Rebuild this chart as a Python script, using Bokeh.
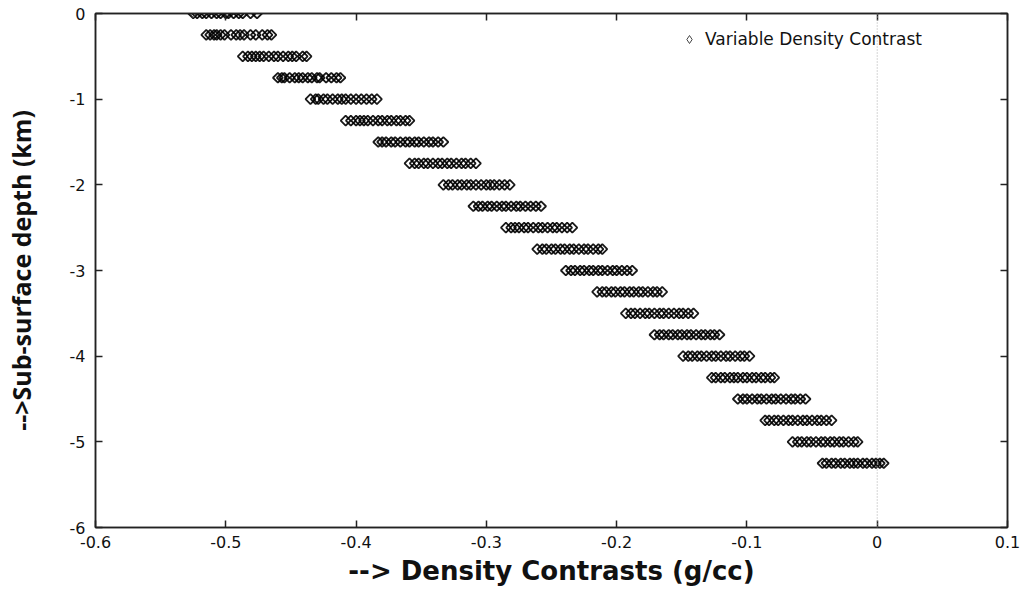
import numpy as np
from bokeh.plotting import figure
from bokeh.models import FixedTicker, Span, Legend, LegendItem, LinearAxis
from bokeh.embed import file_html
from bokeh.resources import INLINE

# Depth levels (km) of each row of samples
depth_levels = [0.0, -0.25, -0.5, -0.75, -1.0, -1.25, -1.5, -1.75, -2.0, -2.25, -2.5,
                -2.75, -3.0, -3.25, -3.5, -3.75, -4.0, -4.25, -4.5, -4.75, -5.0, -5.25]

# Density contrast samples (g/cc)
row_0 = [-0.525, -0.522, -0.518, -0.515, -0.511, -0.507, -0.504, -0.500, -0.498, -0.494, -0.490, -0.487, -0.481, -0.476]
row_1 = [-0.515, -0.512, -0.509, -0.507, -0.504, -0.501, -0.496, -0.492, -0.489, -0.486, -0.481, -0.477, -0.472, -0.468, -0.465]
row_2 = [-0.487, -0.483, -0.480, -0.477, -0.474, -0.471, -0.467, -0.463, -0.460, -0.456, -0.452, -0.449, -0.446, -0.441, -0.438]
row_3 = [-0.460, -0.457, -0.455, -0.451, -0.447, -0.444, -0.441, -0.437, -0.434, -0.430, -0.428, -0.423, -0.419, -0.415, -0.412]
row_4 = [-0.435, -0.431, -0.429, -0.425, -0.422, -0.418, -0.414, -0.411, -0.408, -0.404, -0.400, -0.396, -0.392, -0.388, -0.384]
row_5 = [-0.408, -0.404, -0.400, -0.397, -0.394, -0.391, -0.387, -0.383, -0.380, -0.376, -0.373, -0.369, -0.366, -0.362, -0.359]
row_6 = [-0.383, -0.380, -0.377, -0.373, -0.370, -0.366, -0.362, -0.359, -0.355, -0.352, -0.348, -0.344, -0.341, -0.337, -0.333]
row_7 = [-0.359, -0.355, -0.352, -0.348, -0.345, -0.341, -0.337, -0.334, -0.330, -0.327, -0.323, -0.319, -0.316, -0.312, -0.308]
row_8 = [-0.333, -0.329, -0.326, -0.322, -0.319, -0.315, -0.312, -0.308, -0.304, -0.300, -0.297, -0.294, -0.290, -0.286, -0.282]
row_9 = [-0.310, -0.306, -0.303, -0.299, -0.296, -0.292, -0.288, -0.285, -0.281, -0.277, -0.274, -0.270, -0.266, -0.262, -0.258]
row_10 = [-0.285, -0.281, -0.278, -0.275, -0.271, -0.268, -0.264, -0.260, -0.257, -0.253, -0.249, -0.246, -0.242, -0.238, -0.234]
row_11 = [-0.261, -0.257, -0.254, -0.250, -0.247, -0.243, -0.240, -0.236, -0.233, -0.229, -0.225, -0.222, -0.218, -0.214, -0.211]
row_12 = [-0.239, -0.235, -0.232, -0.228, -0.225, -0.221, -0.218, -0.214, -0.211, -0.207, -0.203, -0.200, -0.196, -0.192, -0.188]
row_13 = [-0.215, -0.211, -0.208, -0.204, -0.201, -0.197, -0.194, -0.190, -0.187, -0.183, -0.180, -0.176, -0.172, -0.169, -0.165]
row_14 = [-0.193, -0.189, -0.186, -0.182, -0.178, -0.175, -0.171, -0.167, -0.164, -0.160, -0.156, -0.152, -0.149, -0.145, -0.141]
row_15 = [-0.171, -0.167, -0.164, -0.160, -0.157, -0.153, -0.150, -0.146, -0.143, -0.139, -0.135, -0.132, -0.128, -0.125, -0.121]
row_16 = [-0.149, -0.145, -0.142, -0.138, -0.135, -0.131, -0.127, -0.124, -0.120, -0.116, -0.113, -0.109, -0.105, -0.102, -0.098]
row_17 = [-0.127, -0.124, -0.120, -0.117, -0.113, -0.110, -0.107, -0.103, -0.100, -0.096, -0.093, -0.089, -0.086, -0.082, -0.079]
row_18 = [-0.107, -0.103, -0.100, -0.096, -0.092, -0.089, -0.085, -0.081, -0.078, -0.074, -0.070, -0.066, -0.063, -0.059, -0.055]
row_19 = [-0.086, -0.083, -0.079, -0.076, -0.072, -0.068, -0.065, -0.061, -0.057, -0.054, -0.050, -0.046, -0.043, -0.039, -0.035]
row_20 = [-0.065, -0.061, -0.058, -0.054, -0.051, -0.047, -0.043, -0.040, -0.036, -0.033, -0.029, -0.026, -0.022, -0.018, -0.015]
row_21 = [-0.042, -0.039, -0.035, -0.032, -0.028, -0.025, -0.021, -0.018, -0.015, -0.011, -0.008, -0.004, -0.001, 0.002, 0.005]

rows = [row_0, row_1, row_2, row_3, row_4, row_5, row_6, row_7, row_8, row_9, row_10,
        row_11, row_12, row_13, row_14, row_15, row_16, row_17, row_18, row_19, row_20, row_21]

x_ticks = [-0.6, -0.5, -0.4, -0.3, -0.2, -0.1, 0.0, 0.1]
x_tick_labels = ["-0.6", "-0.5", "-0.4", "-0.3", "-0.2", "-0.1", "0", "0.1"]
y_ticks = [0, -1, -2, -3, -4, -5, -6]
y_tick_labels = ["0", "-1", "-2", "-3", "-4", "-5", "-6"]
series_name = "Variable Density Contrast"

xs, ys = [], []
for d, r in zip(depth_levels, rows):
    xs.extend(r)
    ys.extend([d] * len(r))

p = figure(width=1024, height=590, output_backend="svg", toolbar_location=None,
           x_range=(-0.6, 0.1), y_range=(-6, 0),
           min_border_left=93, min_border_right=17, min_border_top=13, min_border_bottom=63)
p.background_fill_color = "white"
p.border_fill_color = "white"
p.xgrid.visible = False
p.ygrid.visible = False
p.outline_line_color = "#222222"
p.outline_line_width = 1.5

# zero line
p.add_layout(Span(location=0, dimension="height", line_color="#aaaaaa",
                  line_dash="1 2", line_width=1))

p.scatter(xs, ys, marker="square", size=7, angle=np.pi / 4,
          fill_color=None, line_color="#000000", line_alpha=0.9, line_width=1.8)

# key renderer: re-draws the first sample as a diamond, used for the legend swatch
key = p.scatter(x=xs[:1], y=ys[:1], marker="diamond", size=9,
                fill_color=None, line_color="#444444", line_width=1)

FONT = "DejaVu Sans"

for ax in [p.xaxis[0], p.yaxis[0]]:
    ax.major_tick_in = 7
    ax.major_tick_out = 0
    ax.minor_tick_line_color = None
    ax.axis_line_color = "#222222"
    ax.axis_line_width = 1.5
    ax.major_tick_line_color = "#222222"
    ax.major_tick_line_width = 1.5
    ax.major_label_text_font = FONT
    ax.major_label_text_font_size = "16px"
    ax.major_label_text_color = "#111111"
    ax.axis_label_text_font_style = "bold"
    ax.axis_label_text_color = "#111111"

p.xaxis[0].ticker = FixedTicker(ticks=x_ticks)
p.xaxis[0].major_label_overrides = dict(zip(x_ticks, x_tick_labels))
p.xaxis[0].axis_label = "--> Density Contrasts (g/cc)"
p.xaxis[0].axis_label_text_font = "DejaVu Sans"
p.xaxis[0].axis_label_text_font_size = "26px"
p.xaxis[0].major_label_standoff = 8
p.xaxis[0].axis_label_standoff = 5

p.yaxis[0].ticker = FixedTicker(ticks=y_ticks)
p.yaxis[0].major_label_overrides = dict(zip(y_ticks, y_tick_labels))
p.yaxis[0].axis_label = "-->Sub-surface depth (km)"
p.yaxis[0].axis_label_text_font = "Open Sans"
p.yaxis[0].axis_label_text_font_size = "25px"
p.yaxis[0].major_label_standoff = 10
p.yaxis[0].axis_label_standoff = 29

# mirrored axes (ticks only)
for side, tks in [("right", y_ticks), ("above", x_ticks)]:
    a = LinearAxis(ticker=FixedTicker(ticks=tks))
    a.major_tick_in = 7
    a.major_tick_out = 0
    a.minor_tick_line_color = None
    a.axis_line_color = "#222222"
    a.axis_line_width = 1.5
    a.major_tick_line_color = "#222222"
    a.major_tick_line_width = 1.5
    a.major_label_overrides = {t: "" for t in tks}
    a.major_label_text_font_size = "1px"
    a.major_label_standoff = 0
    p.add_layout(a, side)

legend = Legend(items=[LegendItem(label=series_name, renderers=[key])],
                location=(584, 478))
legend.border_line_color = None
legend.background_fill_alpha = 0
legend.label_text_font = FONT
legend.label_text_font_size = "17px"
legend.label_text_color = "#111111"
legend.padding = 5
legend.glyph_width = 20
legend.label_standoff = 6
p.add_layout(legend, "center")

open("out.html", "w").write(file_html(p, INLINE))
